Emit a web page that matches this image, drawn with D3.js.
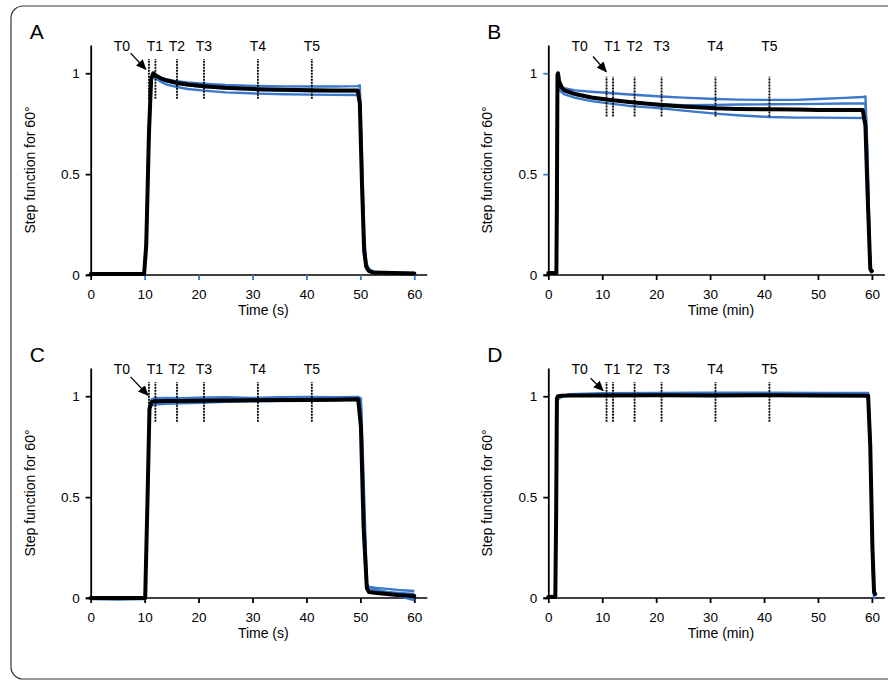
<!DOCTYPE html>
<html>
<head>
<meta charset="utf-8">
<script src="https://cdn.jsdelivr.net/npm/d3@7"></script>
<style>
  body { margin: 0; background: #fff; }
  text { font-family: Arial, "Liberation Sans", sans-serif; fill: #000; }
</style>
</head>
<body>
<script>
// time samples and traces (black = mean, blue = replicates)
var timeA = [0, 9.9, 10.3, 10.8, 11.2, 11.6, 12, 13, 14, 16, 18, 21, 25, 31, 36, 41, 45, 49.5, 49.9, 50.3, 50.7, 51.1, 51.6, 52.5, 56, 60];
var meanA = [0.005, 0.005, 0.15, 0.7, 0.97, 1.0, 0.99, 0.975, 0.965, 0.952, 0.944, 0.936, 0.928, 0.921, 0.918, 0.916, 0.915, 0.915, 0.85, 0.45, 0.12, 0.04, 0.02, 0.012, 0.01, 0.008];
var repA1 = [0.008, 0.008, 0.2, 0.75, 0.975, 0.995, 0.99, 0.978, 0.97, 0.96, 0.954, 0.948, 0.942, 0.937, 0.935, 0.934, 0.934, 0.936, 0.94, 0.6, 0.2, 0.06, 0.03, 0.015, 0.012, 0.01];
var repA2 = [0.003, 0.003, 0.12, 0.65, 0.96, 0.985, 0.975, 0.958, 0.945, 0.932, 0.922, 0.914, 0.905, 0.899, 0.896, 0.894, 0.893, 0.892, 0.85, 0.4, 0.1, 0.03, 0.015, 0.01, 0.008, 0.006];
var repA3 = [0.005, 0.005, 0.14, 0.7, 0.968, 0.992, 0.985, 0.97, 0.96, 0.948, 0.94, 0.932, 0.924, 0.917, 0.913, 0.911, 0.91, 0.912, 0.86, 0.5, 0.15, 0.05, 0.02, 0.012, 0.01, 0.008];

var timeB = [0, 1.5, 1.6, 1.7, 1.8, 2.0, 2.5, 3, 5, 8, 10.8, 15, 18, 21, 25, 31, 35, 41, 46, 50, 55, 58.3, 58.8, 59.2, 59.7, 60];
var meanB = [0.01, 0.01, 0.4, 0.99, 1.0, 0.96, 0.93, 0.915, 0.897, 0.88, 0.87, 0.858, 0.85, 0.843, 0.835, 0.826, 0.823, 0.821, 0.82, 0.818, 0.818, 0.818, 0.74, 0.4, 0.03, 0.02];
var repB1 = [0.01, 0.01, 0.3, 0.9, 0.97, 0.94, 0.93, 0.926, 0.915, 0.908, 0.903, 0.895, 0.89, 0.885, 0.879, 0.872, 0.869, 0.868, 0.868, 0.872, 0.878, 0.882, 0.885, 0.6, 0.02, 0.01];
var repB2 = [0.01, 0.01, 0.3, 0.9, 0.96, 0.93, 0.92, 0.91, 0.893, 0.878, 0.868, 0.856, 0.85, 0.846, 0.842, 0.843, 0.845, 0.846, 0.847, 0.848, 0.85, 0.85, 0.85, 0.55, 0.02, 0.01];
var repB3 = [0.01, 0.01, 0.3, 0.88, 0.95, 0.92, 0.905, 0.895, 0.878, 0.862, 0.852, 0.838, 0.832, 0.826, 0.815, 0.8, 0.792, 0.783, 0.78, 0.78, 0.779, 0.778, 0.778, 0.5, 0.02, 0.01];

var timeC = [0, 5, 10.1, 10.5, 10.9, 11.3, 12, 14, 17, 20, 25, 30, 35, 40, 45, 49.6, 50.1, 50.6, 51.2, 51.6, 53, 55, 57, 60];
var meanC = [0, 0, 0, 0.45, 0.94, 0.972, 0.975, 0.976, 0.977, 0.978, 0.979, 0.98, 0.981, 0.982, 0.983, 0.985, 0.85, 0.35, 0.05, 0.03, 0.025, 0.02, 0.015, 0.01];
var repC1 = [0, -0.005, 0, 0.5, 0.95, 0.985, 0.99, 0.992, 0.99, 0.993, 0.995, 0.992, 0.995, 0.996, 0.995, 0.997, 0.99, 0.6, 0.07, 0.055, 0.05, 0.045, 0.04, 0.035];
var repC2 = [-0.005, -0.008, -0.005, 0.4, 0.93, 0.955, 0.96, 0.963, 0.965, 0.968, 0.972, 0.975, 0.976, 0.978, 0.98, 0.982, 0.96, 0.5, 0.04, 0.035, 0.03, 0.02, 0.01, -0.01];
var repC3 = [0, 0, 0, 0.45, 0.94, 0.975, 0.98, 0.982, 0.983, 0.985, 0.985, 0.986, 0.987, 0.988, 0.99, 0.99, 0.95, 0.45, 0.06, 0.05, 0.04, 0.03, 0.025, 0.02];

var timeD = [0, 1.3, 1.45, 1.6, 1.8, 2.5, 4, 10, 20, 30, 40, 50, 59.3, 59.7, 60.1, 60.4, 60.6];
var meanD = [0.005, 0.005, 0.4, 0.99, 1.0, 1.003, 1.004, 1.004, 1.005, 1.004, 1.005, 1.004, 1.003, 0.75, 0.25, 0.03, 0.02];
var repD1 = [0.005, 0.005, 0.4, 0.97, 0.99, 1.0, 1.01, 1.015, 1.016, 1.017, 1.017, 1.016, 1.016, 0.8, 0.2, 0.0, 0.0];
var repD2 = [0.01, 0.01, 0.4, 0.97, 0.985, 0.998, 1.006, 1.01, 1.012, 1.012, 1.013, 1.012, 1.012, 0.78, 0.15, 0.01, 0.01];

var xTicks = [0, 10, 20, 30, 40, 50, 60];
var yTicks = [0, 0.5, 1];
var markerNames = ["T0", "T1", "T2", "T3", "T4", "T5"];
var markerTimes = [10.8, 12, 16, 21, 31, 41];
var markerLabelTimes = [5.8, 11.9, 16, 21, 31, 41];

var blue = "#3a78cc";

var panels = [
    { id: "A", time: timeA, mean: meanA, reps: [repA1, repA2, repA3], xLabel: "Time (s)",
      left: 90.7, top: 45, dash: [0.873, 1.07], arrow: [7.4, 1.10, 10.2, 1.02], blueX: true, blueY: false },
    { id: "B", time: timeB, mean: meanB, reps: [repB1, repB2, repB3], xLabel: "Time (min)",
      left: 548.3, top: 45, dash: [0.785, 0.983], arrow: [8.3, 1.083, 10.75, 1.008], blueX: false, blueY: true },
    { id: "C", time: timeC, mean: meanC, reps: [repC1, repC2, repC3], xLabel: "Time (s)",
      left: 90.7, top: 368, dash: [0.873, 1.07], arrow: [7.4, 1.096, 10.6, 1.005], blueX: false, blueY: false },
    { id: "D", time: timeD, mean: meanD, reps: [repD1, repD2], xLabel: "Time (min)",
      left: 548.3, top: 368, dash: [0.873, 1.07], arrow: [7.85, 1.089, 10.15, 1.028], blueX: false, blueY: false }
];

var plotW = 323.6;
var plotH = 230;

var svg = d3.select("body")
    .append("svg")
    .attr("width", 888)
    .attr("height", 682);

svg.append("defs").append("marker")
    .attr("id", "arrowhead")
    .attr("viewBox", "0 0 10 10")
    .attr("refX", 9)
    .attr("refY", 5)
    .attr("markerWidth", 8)
    .attr("markerHeight", 8)
    .attr("orient", "auto")
    .append("path")
    .attr("d", "M0,0.5 L10,5 L0,9.5 Z")
    .attr("fill", "#000");

// outer frame
svg.append("rect")
    .attr("x", 11)
    .attr("y", 6)
    .attr("width", 890)
    .attr("height", 673)
    .attr("rx", 12)
    .attr("fill", "none")
    .attr("stroke", "#333")
    .attr("stroke-width", 1.2);

panels.forEach(function(p) {
    var x = d3.scaleLinear().domain([0, 60]).range([p.left, p.left + plotW]);
    var y = d3.scaleLinear().domain([0, 1.14]).range([p.top + plotH, p.top]);

    var g = svg.append("g");

    // x axis line runs a little past both ends
    g.append("line")
        .attr("x1", x(-0.9))
        .attr("x2", x(62.4))
        .attr("y1", y(0))
        .attr("y2", y(0))
        .attr("stroke", "#000")
        .attr("stroke-width", 1.6);

    var xAxis = g.append("g")
        .attr("transform", "translate(0," + y(0) + ")")
        .call(d3.axisBottom(x).tickValues(xTicks).tickSize(5).tickPadding(9).tickFormat(d3.format("d")));
    xAxis.select(".domain").remove();
    xAxis.selectAll("line")
        .attr("stroke-width", 1.8)
        .attr("stroke", function(d) { return (p.blueX && d > 0) ? blue : "#000"; });
    xAxis.selectAll("text").style("font-size", "13.5px").attr("font-family", null);

    var yAxis = g.append("g")
        .attr("transform", "translate(" + x(0) + ",0)")
        .call(d3.axisLeft(y).tickValues(yTicks).tickSize(5).tickPadding(6).tickSizeOuter(0).tickFormat(function(d) { return d; }));
    yAxis.select(".domain").attr("stroke-width", 1.8);
    yAxis.selectAll(".tick line")
        .attr("stroke-width", 1.8)
        .attr("stroke", function(d) { return (p.blueY && d > 0) ? blue : "#000"; });
    yAxis.selectAll("text").style("font-size", "13.5px").attr("font-family", null);

    // axis titles
    g.append("text")
        .attr("transform", "translate(" + (x(0) - 56) + "," + (p.top + 125) + ") rotate(-90)")
        .style("text-anchor", "middle")
        .style("font-size", "14px")
        .text("Step function for 60°");

    g.append("text")
        .attr("x", x(32))
        .attr("y", y(0) + 40)
        .style("text-anchor", "middle")
        .style("font-size", "14px")
        .text(p.xLabel);

    // panel letter
    g.append("text")
        .attr("x", x(0) - 61)
        .attr("y", p.top - 6)
        .style("font-size", "21px")
        .text(p.id);

    var line = d3.line()
        .x(function(d, i) { return x(p.time[i]); })
        .y(function(d) { return y(d); });

    g.selectAll(".rep")
        .data(p.reps)
        .enter()
        .append("path")
        .attr("class", "rep")
        .attr("d", line)
        .attr("fill", "none")
        .attr("stroke", blue)
        .attr("stroke-width", 2.4)
        .attr("stroke-linejoin", "round");

    g.append("path")
        .attr("d", line(p.mean))
        .attr("fill", "none")
        .attr("stroke", "#000")
        .attr("stroke-width", 4)
        .attr("stroke-linejoin", "round")
        .attr("stroke-linecap", "round");

    // time point markers
    g.selectAll(".marker")
        .data(markerTimes)
        .enter()
        .append("line")
        .attr("class", "marker")
        .attr("x1", function(d) { return x(d); })
        .attr("x2", function(d) { return x(d); })
        .attr("y1", y(p.dash[0]))
        .attr("y2", y(p.dash[1]))
        .attr("stroke", "#000")
        .attr("stroke-width", 1.8)
        .attr("stroke-dasharray", "2,1");

    g.selectAll(".mlabel")
        .data(markerNames)
        .enter()
        .append("text")
        .attr("class", "mlabel")
        .attr("x", function(d, i) { return x(markerLabelTimes[i]); })
        .attr("y", y(1.14) + 6)
        .style("text-anchor", "middle")
        .style("font-size", "14px")
        .text(function(d) { return d; });

    g.append("line")
        .attr("x1", x(p.arrow[0]))
        .attr("y1", y(p.arrow[1]))
        .attr("x2", x(p.arrow[2]))
        .attr("y2", y(p.arrow[3]))
        .attr("stroke", "#000")
        .attr("stroke-width", 1.3)
        .attr("marker-end", "url(#arrowhead)");
});
</script>
</body>
</html>
